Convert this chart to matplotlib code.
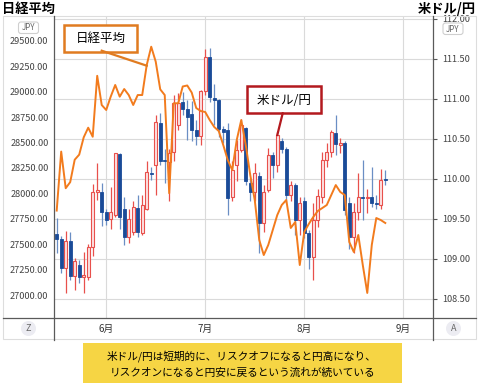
import matplotlib
matplotlib.use('Agg')
import matplotlib.pyplot as plt
from matplotlib.patches import Rectangle, FancyBboxPatch, Circle
import numpy as np
import pandas as pd

plt.rcParams['font.family'] = ['Noto Sans CJK JP', 'DejaVu Sans']

# trading days shown (USD/JPY candles, one per weekday)
start_day = '2021-05-17'
end_day = '2021-09-03'

usd_open = [109.31, 109.25, 108.89, 109.22, 108.79, 108.92, 108.78, 108.78, 109.15, 109.84,
            109.84, 109.59, 109.50, 109.55, 110.31, 109.62, 109.27, 109.34, 109.64, 109.32,
            109.63, 110.08, 110.17, 110.70, 110.24, 110.21, 110.34, 110.68, 110.96, 110.88,
            110.81, 110.61, 110.54, 111.10, 111.52, 111.01, 110.99, 110.63, 110.61, 109.77,
            110.18, 110.36, 110.64, 109.95, 109.84, 110.04, 109.45, 109.86, 110.30, 110.18,
            110.48, 110.38, 109.80, 109.93, 109.49, 109.72, 109.32, 109.03, 109.49, 109.78,
            110.24, 110.34, 110.58, 110.42, 110.45, 109.70, 109.28, 109.59, 109.78, 109.76,
            109.77, 109.70, 109.67, 110.00]
usd_high = [109.51, 109.29, 109.35, 109.34, 109.01, 108.99, 109.09, 109.19, 109.94, 110.20,
            109.95, 109.62, 109.90, 110.33, 110.33, 109.78, 109.63, 109.72, 109.80, 109.80,
            110.22, 110.15, 110.80, 110.82, 110.38, 110.38, 111.05, 111.08, 111.09, 110.99,
            110.97, 110.74, 111.11, 111.63, 111.64, 111.19, 111.00, 110.66, 110.70, 110.22,
            110.49, 110.75, 110.65, 110.01, 110.20, 110.09, 109.93, 110.39, 110.34, 110.59,
            110.51, 110.40, 109.97, 109.95, 109.78, 109.78, 109.36, 109.70, 109.87, 110.34,
            110.45, 110.61, 110.80, 110.51, 110.47, 109.78, 109.70, 110.07, 110.24, 109.88,
            110.15, 109.80, 110.13, 110.11]
usd_low = [109.08, 108.83, 108.57, 108.74, 108.61, 108.70, 108.57, 108.74, 109.04, 109.74,
           109.41, 109.43, 109.38, 109.53, 109.38, 109.18, 109.20, 109.30, 109.28, 109.30,
           109.61, 109.99, 109.80, 110.17, 109.95, 109.72, 110.22, 110.61, 110.80, 110.49,
           110.48, 110.43, 110.42, 111.05, 110.96, 110.68, 110.53, 110.45, 109.55, 109.72,
           109.97, 110.34, 109.93, 109.72, 109.72, 109.07, 109.34, 109.84, 110.01, 110.09,
           110.32, 109.70, 109.72, 109.30, 109.30, 109.26, 108.88, 108.74, 109.40, 109.70,
           110.15, 110.28, 110.30, 110.32, 109.55, 109.13, 109.07, 109.49, 109.49, 109.58,
           109.65, 109.62, 109.63, 109.93]
usd_close = [109.25, 108.89, 109.22, 108.79, 108.97, 108.78, 108.80, 109.15, 109.84, 109.86,
             109.59, 109.49, 109.59, 110.32, 109.53, 109.27, 109.50, 109.65, 109.34, 109.67,
             110.09, 110.06, 110.71, 110.23, 110.22, 110.32, 110.95, 110.95, 110.88, 110.78,
             110.61, 110.54, 111.10, 111.52, 111.02, 110.99, 110.63, 110.59, 109.76, 110.11,
             110.36, 110.68, 109.97, 109.84, 110.08, 109.45, 109.84, 110.30, 110.18, 110.55,
             110.38, 109.80, 109.93, 109.49, 109.70, 109.32, 109.03, 109.49, 109.79, 110.24,
             110.34, 110.59, 110.44, 110.45, 109.61, 109.28, 109.59, 109.77, 109.76, 109.78,
             109.70, 109.69, 109.99, 109.99]

nikkei = [27830, 28410, 28050, 28110, 28330, 28380, 28550, 28645, 28556, 29155,
          28868, 28819, 28950, 29065, 28950, 29025, 28966, 28868, 28966, 28966,
          29261, 29441, 29294, 29022, 28966, 28000, 28885, 28885, 29050, 29060,
          28990, 28838, 28809, 28799, 28720, 28652, 28612, 28475, 28327, 28229,
          28524, 28720, 28475, 28180, 27934, 27541, 27393, 27492, 27639, 27786,
          27885, 27934, 27659, 27718, 27295, 27619, 27698, 27767, 27826, 27855,
          27885, 27983, 28081, 28013, 27983, 27521, 27423, 27590, 27295, 27020,
          27492, 27757, 27737, 27708]

nikkei_ticks = [27000, 27250, 27500, 27750, 28000, 28250, 28500, 28750, 29000, 29250, 29500]
usd_ticks = [108.5, 109.0, 109.5, 110.0, 110.5, 111.0, 111.5, 112.0]

title_left = '日経平均'
title_right = '米ドル/円'
caption = ['米ドル/円は短期的に、リスクオフになると円高になり、',
           'リスクオンになると円安に戻るという流れが続いている']

# colours
up_edge = '#e8504c'
up_fill = '#fde3e3'
down_body = '#1a4b98'
down_wick = '#6a8ec4'
nk_color = '#f27b1d'
grid_c = '#dadada'
axis_c = '#5a5a5a'

W, H = 478, 387
fig = plt.figure(figsize=(W / 100, H / 100), dpi=100)

days = pd.bdate_range(start_day, end_day)
idx = np.arange(len(usd_open))
month_pos = [i for i, d in enumerate(days) if i > 0 and d.month != days[i - 1].month]
month_lab = [f'{days[i].month}月' for i in month_pos]

ax = fig.add_axes([54 / W, 1 - 318 / H, (433 - 54) / W, (318 - 16) / H])
ax2 = ax.twinx()
ax.set_xlim(-0.6, 83.6)
ax.set_ylim(108.2625, 112.0375)

# candles on the USD/JPY scale
w = 0.62
for i in idx:
    o, h, l, c = usd_open[i], usd_high[i], usd_low[i], usd_close[i]
    if c >= o:
        ax.vlines(i, l, h, color=up_edge, lw=0.9, zorder=2)
        ax.add_patch(Rectangle((i - w / 2, o), w, max(c - o, 0.012),
                               facecolor=up_fill, edgecolor=up_edge, lw=0.8, zorder=3))
    else:
        ax.vlines(i, l, h, color=down_wick, lw=0.9, zorder=2)
        ax.add_patch(Rectangle((i - w / 2, c), w, max(o - c, 0.012),
                               facecolor=down_body, edgecolor=down_body, lw=0.6, zorder=3))

ax.set_yticks(usd_ticks)
ax.set_yticklabels([f'{v:.2f}' for v in usd_ticks])
ax.yaxis.tick_right()
ax.tick_params(axis='y', length=3, width=0.8, color=axis_c, pad=4,
               labelsize=6.6, labelcolor='#444444')
ax.set_xticks(month_pos)
ax.set_xticklabels(month_lab)
ax.tick_params(axis='x', length=0, pad=4, labelsize=7, labelcolor='#333333')
ax.grid(True, color=grid_c, lw=0.8)
ax.set_axisbelow(True)
for s in ax.spines.values():
    s.set_visible(False)

# Nikkei line on the left scale
ax2.set_ylim(26774, 29743)
ax2.plot(idx, nikkei, color=nk_color, lw=1.4, zorder=4)
ax2.set_yticks(nikkei_ticks)
ax2.set_yticklabels([f'{v:.2f}' for v in nikkei_ticks])
ax2.yaxis.tick_left()
ax2.tick_params(axis='y', length=0, pad=4, labelsize=6.6, labelcolor='#444444')
for s in ax2.spines.values():
    s.set_visible(False)

# overlay in pixel coordinates for frame, callouts and caption
ov = fig.add_axes([0, 0, 1, 1], zorder=10)
ov.set_xlim(0, W)
ov.set_ylim(H, 0)
ov.axis('off')
ov.patch.set_alpha(0)

ov.add_patch(Rectangle((3, 16), 473, 323, fill=False, edgecolor='#dddddd', lw=0.8))
ov.plot([3, 476], [318, 318], color=axis_c, lw=0.9)
ov.plot([54, 54], [16, 340], color=axis_c, lw=0.9)
ov.plot([433, 433], [16, 340], color=axis_c, lw=0.9)

ov.text(2, 8.5, title_left, fontsize=9.5, fontweight='bold', ha='left', va='center')
ov.text(476, 8.5, title_right, fontsize=9.5, fontweight='bold', ha='right', va='center')

for bx, by in [(18.5, 22), (443, 23)]:
    ov.add_patch(FancyBboxPatch((bx, by), 20, 11.5, boxstyle='round,pad=0,rounding_size=2.5',
                                facecolor='white', edgecolor='#cfcfcf', lw=0.8))
    ov.text(bx + 10, by + 6, 'JPY', fontsize=5.8, color='#666666', ha='center', va='center')

for cx, lab in [(28.5, 'Z'), (453.5, 'A')]:
    ov.add_patch(Circle((cx, 328.5), 7.5, facecolor='#ececf2', edgecolor='none'))
    ov.text(cx, 328.5, lab, fontsize=6.5, color='#666666', ha='center', va='center')

# callouts
ov.plot([101.7, 146.7], [50.7, 65.7], color='#e07b20', lw=1.6)
ov.add_patch(Rectangle((64.5, 24.5), 73, 27.5, facecolor='white', edgecolor='#e07b20', lw=1.8))
ov.text(101, 38.8, title_left, fontsize=9, ha='center', va='center')

ov.plot([282.7, 277.3], [113.3, 135], color='#b3191e', lw=1.6)
ov.add_patch(Rectangle((246.7, 86), 74, 27.3, facecolor='white', edgecolor='#b3191e', lw=1.8))
ov.text(283.7, 100, title_right, fontsize=9, ha='center', va='center')

# caption
ov.add_patch(Rectangle((82.7, 343.3), 319, 40, facecolor='#f6d544', edgecolor='none'))
ov.text(242, 356.5, caption[0], fontsize=7.7, ha='center', va='center')
ov.text(242, 372.5, caption[1], fontsize=7.7, ha='center', va='center')

fig.savefig('out.png', dpi=100)
